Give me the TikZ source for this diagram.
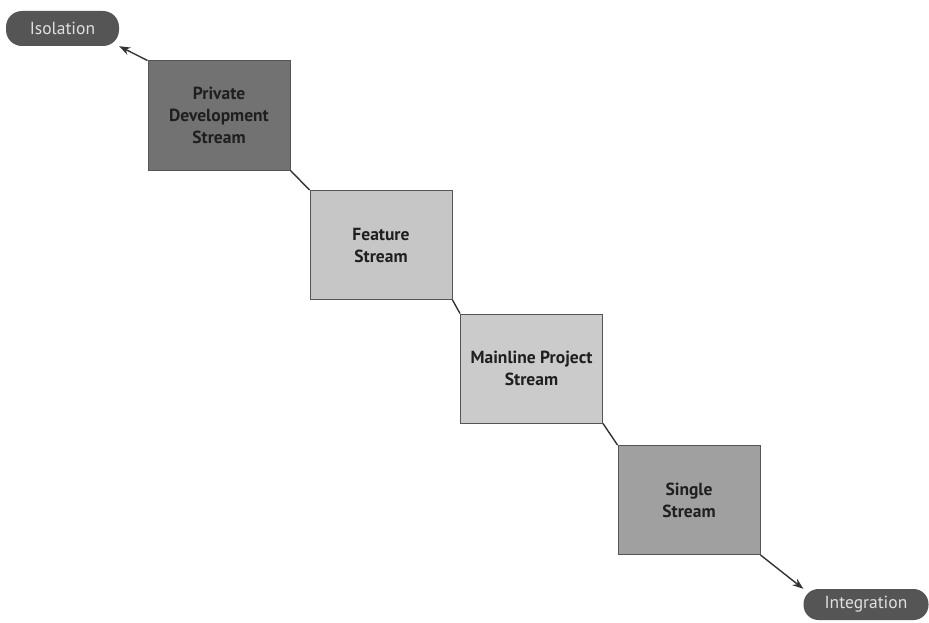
\documentclass[tikz,border=0pt]{standalone}
\usepackage{fontspec}
\setmainfont{PT Sans}
\usetikzlibrary{arrows.meta}
\definecolor{pilldark}{HTML}{555555}
\definecolor{boxedge}{HTML}{555555}
\definecolor{privfill}{HTML}{727272}
\definecolor{featfill}{HTML}{C6C6C6}
\definecolor{mainfill}{HTML}{CBCBCB}
\definecolor{singfill}{HTML}{A0A0A0}
\begin{document}
\begin{tikzpicture}[x=1pt,y=-1pt,
  stagebox/.style={draw=boxedge, line width=1pt, minimum width=142pt, minimum height=109pt,
    inner sep=0pt, align=center, font=\fontsize{17.5}{22}\selectfont\bfseries, text=black!88},
  pill/.style={fill=pilldark, rounded corners=16pt, inner sep=0pt, text=white!88!black,
    font=\fontsize{17.5}{20}\selectfont},
  link/.style={draw=black!80, line width=1.4pt},
  arrowlink/.style={link, -{Stealth[length=11pt,width=8pt]}}]
\useasboundingbox (0,0) rectangle (929,623);
\fill[white] (0,0) rectangle (929,623);

% end labels
\node[pill, minimum width=113pt, minimum height=35pt] (iso) at (62.5,28.5) {Isolation};
\node[pill, minimum width=125pt, minimum height=31pt, rounded corners=15pt] (int) at (866,604.5) {Integration};

% the four stream levels
\node[stagebox, fill=privfill] (priv) at (219,115.5) {Private\\Development\\Stream};
\node[stagebox, fill=featfill] (feat) at (381,245) {Feature\\Stream};
\node[stagebox, fill=mainfill] (main) at (531.5,368.5) {Mainline Project\\Stream};
\node[stagebox, fill=singfill] (sing) at (689,500) {Single\\Stream};

% connectors along the diagonal
\draw[arrowlink] (priv.north west) -- (iso.south east);
\draw[link] (priv.south east) -- (feat.north west);
\draw[link] (feat.south east) -- (main.north west);
\draw[link] (main.south east) -- (sing.north west);
\draw[arrowlink] (sing.south east) -- (int.north west);
\end{tikzpicture}
\end{document}
